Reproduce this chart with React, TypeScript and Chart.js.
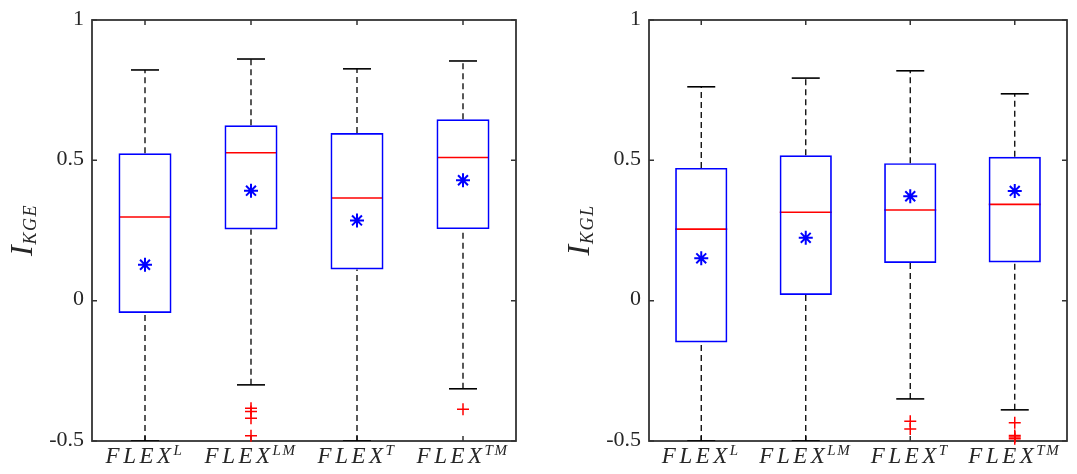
import React, { useEffect, useRef } from 'react';
import { Chart, registerables } from 'chart.js';

Chart.register(...registerables);

// ---------- data ----------
const categories = ['FLEX^L', 'FLEX^LM', 'FLEX^T', 'FLEX^TM'];
const categoryBase = ['FLEX', 'FLEX', 'FLEX', 'FLEX'];
const categorySup = ['L', 'LM', 'T', 'TM'];
const yTickValues = [-0.5, 0, 0.5, 1];
const yTickLabels = ['-0.5', '0', '0.5', '1'];

// Left panel: I_KGE
const kgeQ1 = [-0.044, 0.254, 0.111, 0.255];
const kgeQ3 = [0.525, 0.625, 0.597, 0.646];
const kgeMedian = [0.298, 0.527, 0.366, 0.51];
const kgeMean = [0.128, 0.392, 0.286, 0.429];
const kgeUpper = [0.822, 0.861, 0.826, 0.854];
const kgeLower = [-0.5, -0.3, -0.5, -0.314];
const kgeOutliers = [[], [-0.383, -0.395, -0.419, -0.481], [], [-0.387]];

// Right panel: I_KGL
const kglQ1 = [-0.149, 0.02, 0.134, 0.136];
const kglQ3 = [0.473, 0.518, 0.49, 0.513];
const kglMedian = [0.255, 0.315, 0.323, 0.343];
const kglMean = [0.151, 0.224, 0.372, 0.391];
const kglUpper = [0.762, 0.793, 0.819, 0.737];
const kglLower = [-0.5, -0.5, -0.35, -0.389];
const kglOutliers = [[], [], [-0.43, -0.457], [-0.435, -0.48, -0.486, -0.492]];

const TEXT = '#262626';
const FRAME = '#333333';

function buildDatasets(q1: number[], q3: number[], med: number[], mean: number[], upper: number[], lower: number[], outliers: number[][]) {
  const ds: any[] = [];
  categories.forEach((c, i) => {
    ds.push({
      type: 'line', data: [{ x: c, y: q3[i] }, { x: c, y: upper[i] }],
      borderColor: '#000', borderWidth: 1.3, borderDash: [6, 4], pointRadius: 0, clip: 0,
    });
    ds.push({
      type: 'line', data: [{ x: c, y: lower[i] }, { x: c, y: q1[i] }],
      borderColor: '#000', borderWidth: 1.3, borderDash: [6, 4], pointRadius: 0, clip: 0,
    });
  });
  ds.push({
    type: 'line', data: categories.map((c, i) => ({ x: c, y: upper[i] })), showLine: false,
    pointStyle: 'line', pointRadius: 14, pointBorderWidth: 1.6, pointBorderColor: '#000', clip: 0,
  });
  ds.push({
    type: 'line', data: categories.map((c, i) => ({ x: c, y: lower[i] })), showLine: false,
    pointStyle: 'line', pointRadius: 14, pointBorderWidth: 1.6, pointBorderColor: '#000', clip: 0,
  });
  ds.push({
    type: 'bar', data: categories.map((_, i) => [q1[i], q3[i]]),
    backgroundColor: 'rgba(0,0,0,0)', borderColor: '#0000ff', borderWidth: 1.7, borderSkipped: false,
    barPercentage: 0.5, categoryPercentage: 1,
  });
  ds.push({
    type: 'line', data: categories.map((c, i) => ({ x: c, y: med[i] })), showLine: false,
    pointStyle: 'line', pointRadius: 26, pointBorderWidth: 1.6, pointBorderColor: '#ff0000',
  });
  ds.push({
    type: 'line', data: categories.map((c, i) => ({ x: c, y: mean[i] })), showLine: false,
    pointStyle: 'star', pointRadius: 7, pointBorderWidth: 2, pointBorderColor: '#0000ff',
  });
  ds.push({
    type: 'line', data: outliers.flatMap((arr, i) => arr.map((v) => ({ x: categories[i], y: v }))), showLine: false,
    pointStyle: 'cross', pointRadius: 6, pointBorderWidth: 1.5, pointBorderColor: '#ff0000', clip: 12,
  });
  return ds;
}

function drawSpaced(ctx: CanvasRenderingContext2D, text: string, x: number, y: number, spacing: number) {
  let cx = x;
  for (const ch of text) {
    ctx.fillText(ch, cx, y);
    cx += ctx.measureText(ch).width + spacing;
  }
  return cx - x;
}
function spacedWidth(ctx: CanvasRenderingContext2D, text: string, spacing: number) {
  let w = 0;
  for (const ch of text) w += ctx.measureText(ch).width + spacing;
  return w;
}

function makeDecor(titleSub: string) {
  return {
    id: 'matlabDecor',
    beforeDatasetsDraw(chart: any) {
      const { ctx, chartArea: a, scales } = chart;
      ctx.save();
      ctx.strokeStyle = FRAME;
      ctx.lineWidth = 1.8;
      ctx.strokeRect(a.left, a.top, a.right - a.left, a.bottom - a.top);
      ctx.lineWidth = 1.5;
      ctx.beginPath();
      categories.forEach((_, i) => {
        const x = scales.x.getPixelForValue(i);
        ctx.moveTo(x, a.bottom); ctx.lineTo(x, a.bottom - 5);
        ctx.moveTo(x, a.top); ctx.lineTo(x, a.top + 5);
      });
      yTickValues.forEach((v) => {
        const y = scales.y.getPixelForValue(v);
        ctx.moveTo(a.left, y); ctx.lineTo(a.left + 5, y);
        ctx.moveTo(a.right, y); ctx.lineTo(a.right - 5, y);
      });
      ctx.stroke();
      ctx.restore();
    },
    afterDraw(chart: any) {
      const { ctx, chartArea: a, scales } = chart;
      ctx.save();
      ctx.fillStyle = TEXT;
      // y tick labels
      ctx.font = '22px "Liberation Serif"';
      ctx.textAlign = 'right';
      ctx.textBaseline = 'middle';
      yTickValues.forEach((v, k) => {
        const y = scales.y.getPixelForValue(v);
        ctx.fillText(yTickLabels[k], a.left - 8, y - 1);
      });
      // x category labels
      ctx.textBaseline = 'alphabetic';
      ctx.textAlign = 'left';
      const baseFont = 'italic 23px "Liberation Serif"';
      const supFont = 'italic 15px "Liberation Serif"';
      const sp = 3.5;
      categories.forEach((_, i) => {
        const x = scales.x.getPixelForValue(i);
        ctx.font = baseFont;
        const wb = spacedWidth(ctx, categoryBase[i], sp);
        ctx.font = supFont;
        const ws = spacedWidth(ctx, categorySup[i], 1.5);
        const start = x - (wb + ws) / 2;
        const yb = a.bottom + 22;
        ctx.font = baseFont;
        drawSpaced(ctx, categoryBase[i], start, yb, sp);
        ctx.font = supFont;
        drawSpaced(ctx, categorySup[i], start + wb - 1, yb - 8, 1.5);
      });
      // y title
      const cy = (a.top + a.bottom) / 2;
      ctx.translate(a.left - 60, cy);
      ctx.rotate(-Math.PI / 2);
      ctx.font = 'italic 32px "Liberation Serif"';
      const wI = ctx.measureText('I').width;
      ctx.font = 'italic 18px "Liberation Serif"';
      const wS = spacedWidth(ctx, titleSub, 1.5);
      const s0 = -(wI + wS) / 2;
      ctx.font = 'italic 32px "Liberation Serif"';
      ctx.fillText('I', s0, 0);
      ctx.font = 'italic 18px "Liberation Serif"';
      drawSpaced(ctx, titleSub, s0 + wI + 1, 4, 1.5);
      ctx.restore();
    },
  };
}

function BoxPanel(props: { left: number; width: number; areaLeft: number; areaRight: number; titleSub: string; datasets: any[] }) {
  const ref = useRef<HTMLCanvasElement | null>(null);
  useEffect(() => {
    if (!ref.current) return;
    const chart = new Chart(ref.current, {
      type: 'bar',
      data: { labels: categories, datasets: props.datasets },
      options: {
        animation: false,
        responsive: false,
        events: [],
        layout: { autoPadding: false, padding: { left: props.areaLeft, right: props.width - props.areaRight, top: 20, bottom: 33 } },
        plugins: { legend: { display: false }, tooltip: { enabled: false } },
        scales: {
          x: { type: 'category', labels: categories, offset: true, display: false },
          y: { min: -0.5, max: 1, display: false },
        },
      },
      plugins: [makeDecor(props.titleSub)],
    } as any);
    return () => chart.destroy();
  }, []);
  return (
    <canvas
      ref={ref}
      width={props.width}
      height={474}
      style={{ position: 'absolute', left: props.left, top: 0, width: props.width, height: 474 }}
    />
  );
}

export default function App() {
  const left = buildDatasets(kgeQ1, kgeQ3, kgeMedian, kgeMean, kgeUpper, kgeLower, kgeOutliers);
  const right = buildDatasets(kglQ1, kglQ3, kglMedian, kglMean, kglUpper, kglLower, kglOutliers);
  return (
    <div style={{ position: 'absolute', left: 0, top: 0, width: 1077, height: 474, background: '#fff' }}>
      <BoxPanel left={0} width={540} areaLeft={92} areaRight={516} titleSub="KGE" datasets={left} />
      <BoxPanel left={540} width={537} areaLeft={109} areaRight={527} titleSub="KGL" datasets={right} />
    </div>
  );
}
